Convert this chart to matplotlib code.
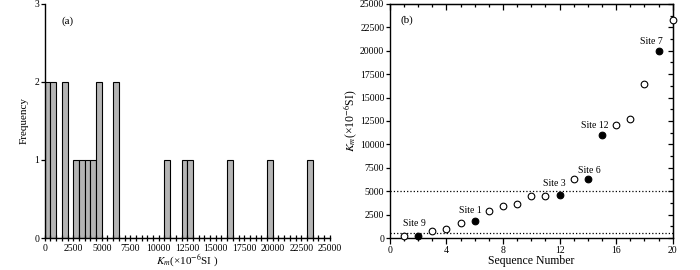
import numpy as np
import matplotlib
matplotlib.use("Agg")
import matplotlib.pyplot as plt
from matplotlib.ticker import MultipleLocator

plt.rcParams['font.family'] = ['Liberation Serif', 'DejaVu Serif']
plt.rcParams['mathtext.fontset'] = 'stix'

# susceptibility of the 20 samples, sorted (x10^-6 SI)
seq = np.arange(1, 21)
km = [250, 250, 780, 960, 1570, 1850, 2880, 3420, 3630, 4450,
      4520, 4630, 6260, 6260, 10960, 12040, 12680, 16400, 19950, 23290]
# sequence numbers of the named sites (filled markers)
site_seq = [2, 6, 12, 14, 15, 19]
site_names = ['Site 9', 'Site 1', 'Site 3', 'Site 6', 'Site 12', 'Site 7']
label_pos = [(1.7, 1550), (5.7, 2950), (11.6, 5800), (14.1, 7250), (14.5, 12050), (18.5, 20950)]
thresholds = [500, 5000]
bin_width = 500

fig = plt.figure(figsize=(7, 2.7), dpi=100)
ax1 = fig.add_axes([0.064, 0.1185, 0.407, 0.867])
ax2 = fig.add_axes([0.557, 0.1185, 0.404, 0.867])

# (a) histogram
bins = np.arange(0, 25000 + bin_width, bin_width)
ax1.hist(km, bins=bins, color='#b4b4b4', edgecolor='black', linewidth=0.8)
ax1.set_xlim(0, 25000)
ax1.set_ylim(0, 3)
ax1.spines['top'].set_visible(False)
ax1.spines['right'].set_visible(False)
ax1.xaxis.set_major_locator(MultipleLocator(2500))
ax1.xaxis.set_minor_locator(MultipleLocator(500))
ax1.yaxis.set_major_locator(MultipleLocator(1))
ax1.tick_params(axis='x', which='major', direction='inout', length=5, width=0.9, labelsize=7, pad=1.5)
ax1.tick_params(axis='x', which='minor', direction='inout', length=4, width=0.9)
ax1.tick_params(axis='y', direction='out', length=3, width=0.9, labelsize=7, pad=1)
ax1.set_xlabel(r'$K_m$(×10$^{-6}$SI )', fontsize=8, labelpad=0)
ax1.set_ylabel('Frequency', fontsize=8)
ax1.text(2000, 2.78, '(a)', fontsize=8, ha='center', va='center')
for s in ax1.spines.values():
    s.set_linewidth(1.0)

# (b) sorted values
for t in thresholds:
    ax2.axhline(t, color='black', linestyle=':', linewidth=0.9, zorder=1)
is_site = np.isin(seq, site_seq)
ax2.plot(seq[~is_site], np.array(km)[~is_site], 'o', mfc='white', mec='black',
         ms=4.8, mew=0.8, clip_on=False, zorder=3)
ax2.plot(seq[is_site], np.array(km)[is_site], 'o', mfc='black', mec='black',
         ms=4.8, mew=0.8, clip_on=False, zorder=3)
for name, (tx, ty) in zip(site_names, label_pos):
    ax2.text(tx, ty, name, fontsize=7, ha='center', va='center')
ax2.text(1.2, 23250, '(b)', fontsize=8, ha='center', va='center')
ax2.set_xlim(0, 20)
ax2.set_ylim(0, 25000)
ax2.xaxis.set_major_locator(MultipleLocator(4))
ax2.xaxis.set_minor_locator(MultipleLocator(1))
ax2.yaxis.set_major_locator(MultipleLocator(2500))
ax2.yaxis.set_minor_locator(MultipleLocator(1250))
ax2.tick_params(axis='x', which='major', direction='out', length=4, width=0.9, labelsize=7, pad=1.5)
ax2.tick_params(axis='x', which='minor', direction='out', length=2.5, width=0.9)
ax2.tick_params(axis='y', which='major', direction='out', length=3, width=0.9, labelsize=7, pad=1)
ax2.tick_params(axis='y', which='minor', left=False)
ax2.set_xlabel('Sequence Number', fontsize=8.5, labelpad=0)
ax2.set_ylabel(r'$K_m$(×10$^{-6}$SI)', fontsize=8.5, labelpad=1)
for s in ax2.spines.values():
    s.set_linewidth(1.0)

# inward ticks on top and right
top = ax2.secondary_xaxis('top')
top.xaxis.set_major_locator(MultipleLocator(4))
top.xaxis.set_minor_locator(MultipleLocator(1))
top.tick_params(which='major', direction='in', length=4, width=0.9, labeltop=False)
top.tick_params(which='minor', direction='in', length=2.5, width=0.9)
right = ax2.secondary_yaxis('right')
right.yaxis.set_major_locator(MultipleLocator(2500))
right.yaxis.set_minor_locator(MultipleLocator(1250))
right.tick_params(which='major', direction='in', length=3.5, width=0.9, labelright=False)
right.tick_params(which='minor', direction='in', length=2.5, width=0.9)

fig.savefig('out.png', dpi=100)
